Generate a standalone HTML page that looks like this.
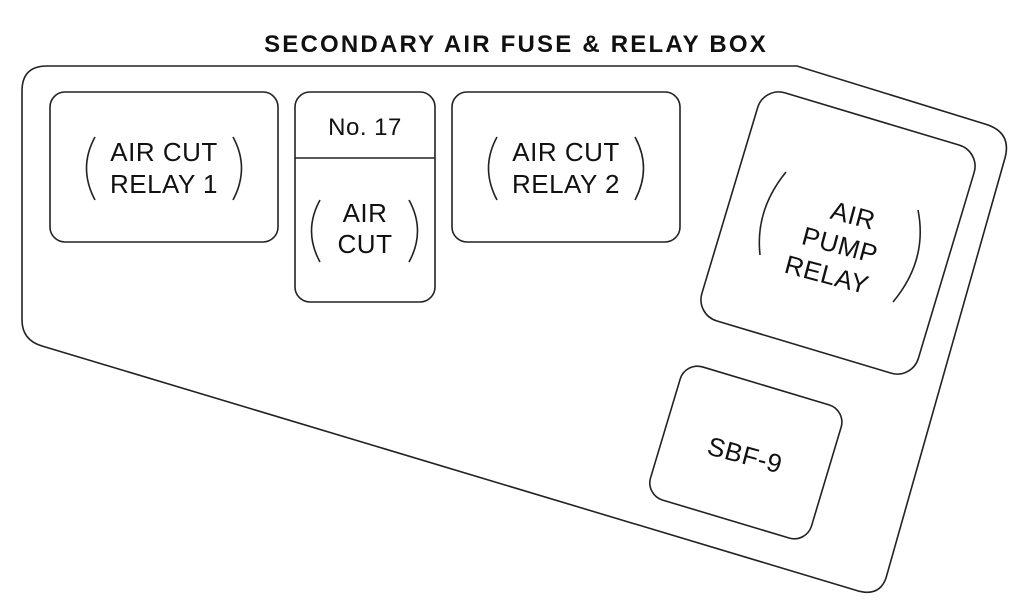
<!DOCTYPE html>
<html><head><meta charset="utf-8"><style>
html,body{margin:0;padding:0;background:#fff;}
svg{display:block;}
text{font-family:"Liberation Sans",sans-serif;fill:#111;}
</style></head><body>
<svg width="1035" height="615" viewBox="0 0 1035 615" xmlns="http://www.w3.org/2000/svg">
<text x="516" y="52" font-size="24" font-weight="bold" text-anchor="middle" letter-spacing="2.2">SECONDARY AIR FUSE &amp; RELAY BOX</text>
<g fill="none" stroke="#222" stroke-width="1.6">
<path d="M22,91 Q22,66 47,66 L797,66 L985,124 Q1012,132 1005,158 L886,578 Q879,598 855,590 L42,346 Q22,340 22,320 Z"/>
<rect x="50" y="92" width="228" height="150" rx="15"/>
<rect x="295" y="92" width="140" height="210" rx="15"/>
<line x1="295" y1="158" x2="435" y2="158"/>
<rect x="452" y="92" width="228" height="150" rx="15"/>
<rect x="725" y="114" width="226" height="238" rx="22" transform="rotate(16.7 838 233)"/>
<rect x="662" y="383" width="168" height="139" rx="18" transform="rotate(16.7 746 452)"/>
<path d="M95,137 Q78,168 95,200"/><path d="M233,137 Q250,168 233,200"/>
<path d="M320,200 Q303,231 320,262"/><path d="M409,200 Q426,231 409,262"/>
<path d="M497,137 Q480,168 497,200"/><path d="M635,137 Q652,168 635,200"/>
<path d="M786,172 Q755,210 760,255"/><path d="M918,210 Q928,260 893,302"/>
</g>
<g font-size="26" text-anchor="middle" letter-spacing="0.5">
<text x="164" y="161">AIR CUT</text><text x="164" y="193">RELAY 1</text>
<text x="365" y="135" font-size="24">No. 17</text>
<text x="365" y="222">AIR</text><text x="365" y="253">CUT</text>
<text x="566" y="161">AIR CUT</text><text x="566" y="193">RELAY 2</text>
<g transform="rotate(15 840 245)">
<text x="845" y="222">AIR</text><text x="840" y="254">PUMP</text><text x="835" y="286">RELAY</text>
</g>
<text x="745" y="464" transform="rotate(15 745 455)">SBF-9</text>
</g>
</svg>
</body></html>
